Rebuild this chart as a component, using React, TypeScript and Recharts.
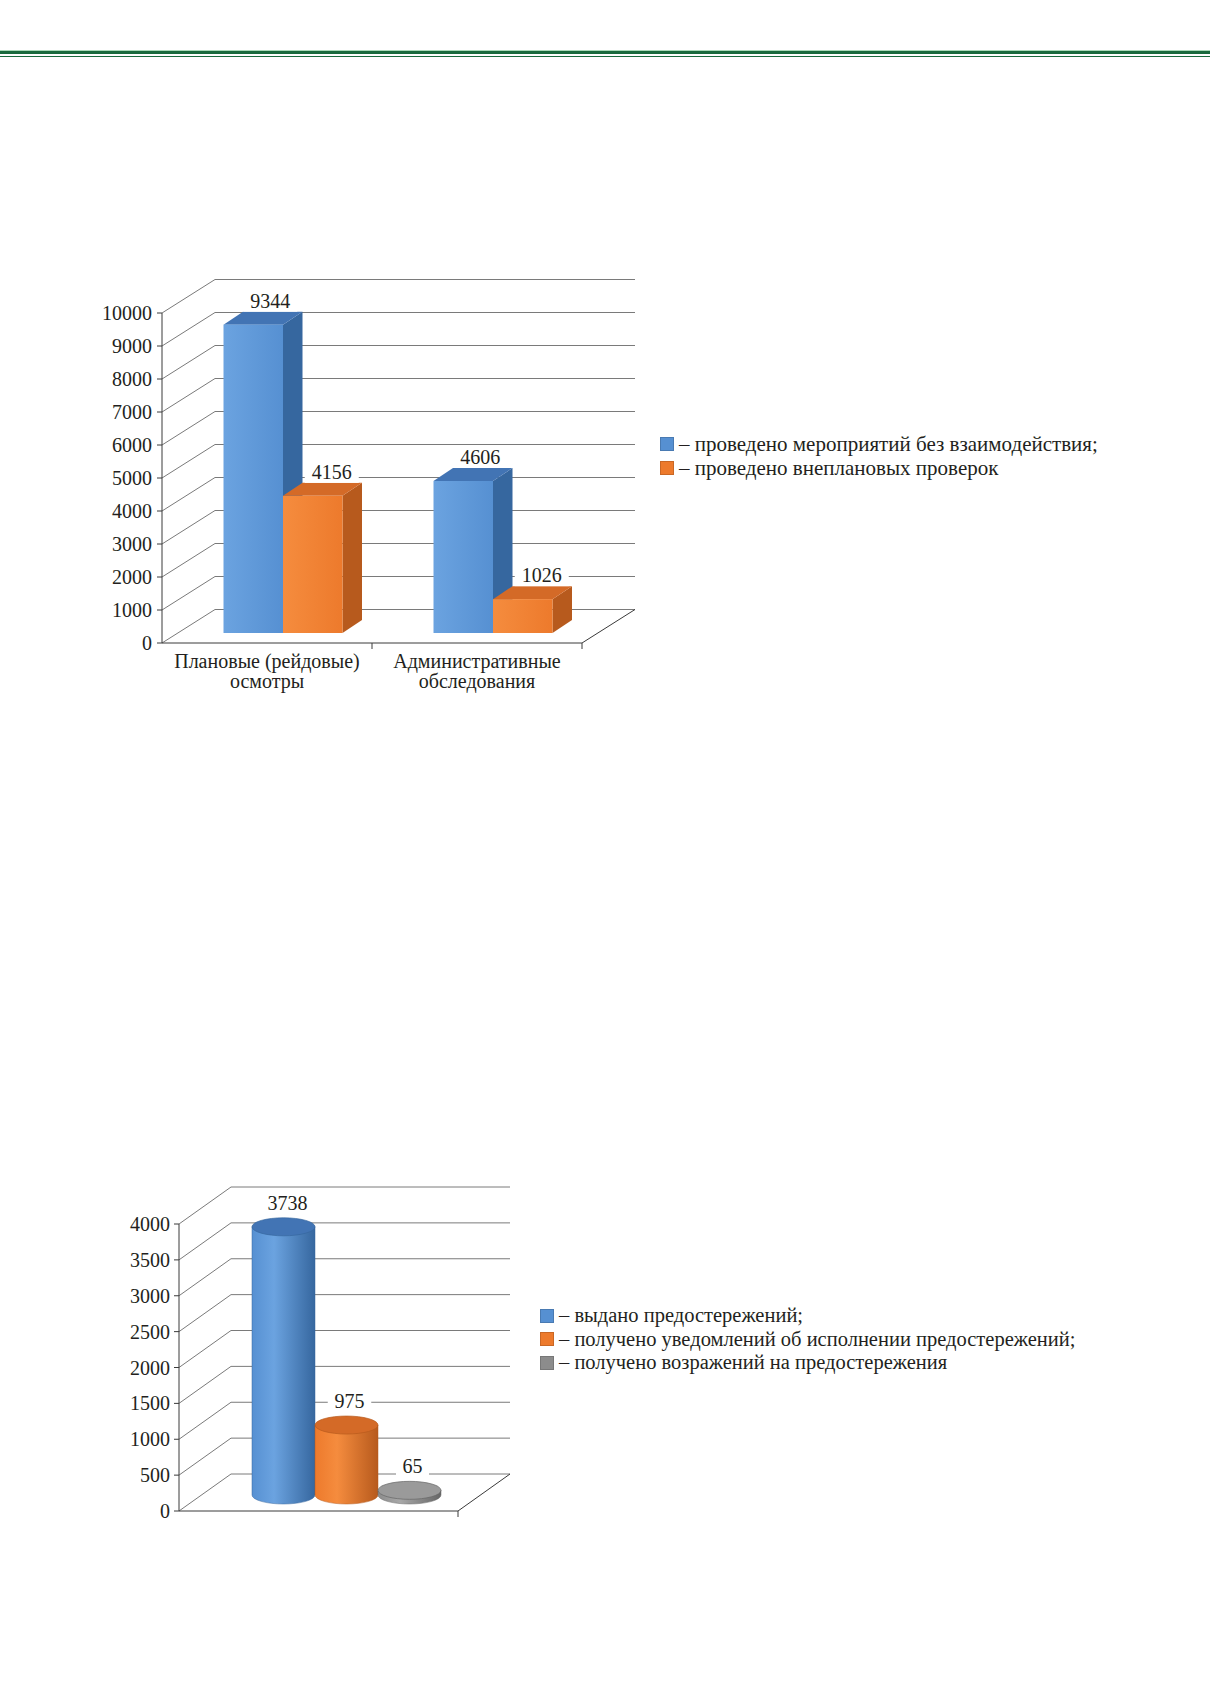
import { Bar, BarChart, CartesianGrid, LabelList, Legend, XAxis, YAxis } from 'recharts';

// ---- data ----
const inspectionCategories = ['Плановые (рейдовые)\nосмотры', 'Административные\nобследования'];
const withoutInteraction = [9344, 4606];
const unscheduledChecks = [4156, 1026];
const inspectionTicks = [0, 1000, 2000, 3000, 4000, 5000, 6000, 7000, 8000, 9000, 10000];

const warningCategories = [''];
const warningsIssued = [3738];
const warningsFulfilled = [975];
const warningsObjected = [65];
const warningTicks = [0, 500, 1000, 1500, 2000, 2500, 3000, 3500, 4000];

const inspectionData = inspectionCategories.map((name, i) => ({
  name,
  withoutInteraction: withoutInteraction[i],
  unscheduled: unscheduledChecks[i],
}));

const warningData = warningCategories.map((name, i) => ({
  name,
  issued: warningsIssued[i],
  fulfilled: warningsFulfilled[i],
  objected: warningsObjected[i],
}));

// ---- style ----
const FONT = '"Liberation Serif", "Times New Roman", serif';
const TEXT = '#231f20';
const GRID = '#7a7a7a';
const AXIS = '#3a3a3a';

const BLUE = { id: 'blue', light: '#6ba3e0', base: '#5690d2', side: '#36679f', top: '#4274b4' };
const ORANGE = { id: 'orange', light: '#f58c3e', base: '#ed7a2c', side: '#b75a1d', top: '#d46a27' };
const GRAY = { id: 'gray', light: '#a8a8a8', base: '#8c8c8c', side: '#666', top: '#9a9a9a' };
type Palette = typeof BLUE;

// back-wall depth of each chart (px)
const DEPTH1 = { dx: 53, dy: 33.5 };
const DEPTH2 = { dx: 52, dy: 37 };

// grid line = diagonal from the front axis to the back wall + line across the back wall
function backWallLine(depth: { dx: number; dy: number }) {
  return (props: any) => {
    const { x1, y1, x2, y, height, key } = props;
    const isFloor = Math.abs(y1 - (y + height)) < 1;
    return (
      <g key={key}>
        <line x1={x1} y1={y1} x2={x1 + depth.dx} y2={y1 - depth.dy} stroke={GRID} strokeWidth={1} />
        <line x1={x1 + depth.dx} y1={y1 - depth.dy} x2={x2 + depth.dx} y2={y1 - depth.dy} stroke={GRID} strokeWidth={1} />
        {isFloor && (
          <line x1={x2} y1={y1} x2={x2 + depth.dx} y2={y1 - depth.dy} stroke={AXIS} strokeWidth={1} />
        )}
      </g>
    );
  };
}

// ---- chart 1: 3D boxes ----
const BOX_OFF = { x: 15.5, y: -10 };
const BOX_DEPTH = { x: 19.5, y: 13 };

function Box3D(props: any) {
  const { x, y, width, height, palette } = props as { x: number; y: number; width: number; height: number; palette: Palette };
  const fx = x + BOX_OFF.x;
  const fy = y + BOX_OFF.y;
  const dx = BOX_DEPTH.x;
  const dy = BOX_DEPTH.y;
  const gid = `box-${palette.id}`;
  return (
    <g>
      <defs>
        <linearGradient id={gid} x1="0" y1="0" x2="1" y2="0">
          <stop offset="0%" stopColor={palette.light} />
          <stop offset="100%" stopColor={palette.base} />
        </linearGradient>
      </defs>
      <polygon
        points={`${fx + width},${fy} ${fx + width + dx},${fy - dy} ${fx + width + dx},${fy + height - dy} ${fx + width},${fy + height}`}
        fill={palette.side}
      />
      <polygon
        points={`${fx},${fy} ${fx + dx},${fy - dy} ${fx + width + dx},${fy - dy} ${fx + width},${fy}`}
        fill={palette.top}
      />
      <rect x={fx} y={fy} width={width} height={height} fill={`url(#${gid})`} />
    </g>
  );
}

function valueLabel(off: { x: number; y: number }, shiftX: number) {
  return (props: any) => {
    const { x, y, width, value } = props;
    const cx = x + off.x + width / 2 + shiftX;
    const cy = y + off.y - 24;
    const w = String(value).length * 10.5 + 12;
    return (
      <g>
        <rect x={cx - w / 2} y={cy - 11} width={w} height={22} fill="#fff" />
        <text x={cx} y={cy + 7} textAnchor="middle" fontSize={20} fill={TEXT}>
          {value}
        </text>
      </g>
    );
  };
}

// ---- chart 2: cylinders ----
const CYL_OFF = { x: 28, y: -16 };
const CYL_RY = 9;

function Cylinder(props: any) {
  const { x, y, width, height, palette } = props as { x: number; y: number; width: number; height: number; palette: Palette };
  const left = x + CYL_OFF.x;
  const top = y + CYL_OFF.y;
  const bottom = y + height + CYL_OFF.y;
  const rx = width / 2;
  const gid = `cyl-${palette.id}`;
  return (
    <g>
      <defs>
        <linearGradient id={gid} x1="0" y1="0" x2="1" y2="0">
          <stop offset="0%" stopColor={palette.base} />
          <stop offset="35%" stopColor={palette.light} />
          <stop offset="100%" stopColor={palette.side} />
        </linearGradient>
      </defs>
      <path
        d={`M${left},${top} L${left},${bottom} A${rx},${CYL_RY} 0 0 0 ${left + width},${bottom} L${left + width},${top} Z`}
        fill={`url(#${gid})`}
        stroke={palette.side}
        strokeWidth={0.5}
      />
      <ellipse cx={left + rx} cy={top} rx={rx} ry={CYL_RY} fill={palette.top} stroke={palette.side} strokeWidth={0.7} />
    </g>
  );
}

// category tick: two-line label plus the boundary tick marks between categories
function categoryTick(halfBand: number, count: number) {
  return (props: any) => {
    const { x, y, payload, index } = props;
    const lines = String(payload.value).split('\n');
    return (
      <g>
        {index > 0 && <line x1={x - halfBand} y1={y} x2={x - halfBand} y2={y + 6} stroke={AXIS} />}
        {index === count - 1 && <line x1={x + halfBand} y1={y} x2={x + halfBand} y2={y + 6} stroke={AXIS} />}
        <text x={x} y={y + 25} textAnchor="middle" fontSize={20} fill={TEXT}>
          {lines.map((line, i) => (
            <tspan key={i} x={x} dy={i === 0 ? 0 : 20}>
              {line}
            </tspan>
          ))}
        </text>
      </g>
    );
  };
}

function legendContent(order: string[], rowHeight: number, fontSize: number) {
  return (props: any) => {
    const items = [...(props.payload ?? [])].sort(
      (a: any, b: any) => order.indexOf(a.dataKey) - order.indexOf(b.dataKey),
    );
    return (
      <div style={{ fontFamily: FONT, fontSize, color: TEXT }}>
        {items.map((entry: any) => (
          <div key={entry.value} style={{ display: 'flex', alignItems: 'center', height: rowHeight, whiteSpace: 'nowrap' }}>
            <span
              style={{
                width: 12,
                height: 12,
                background: entry.color,
                border: '1px solid rgba(0,0,0,0.15)',
                marginRight: 5,
              }}
            />
            <span>– {entry.value}</span>
          </div>
        ))}
      </div>
    );
  };
}

function InspectionChart() {
  const order = ['withoutInteraction', 'unscheduled'];
  return (
    <BarChart
      width={1050}
      height={460}
      data={inspectionData}
      margin={{ top: 63, right: 548, bottom: 7, left: 0 }}
      barGap={0}
      barSize={59.5}
      style={{ fontFamily: FONT }}
    >
      <CartesianGrid vertical={false} horizontal={backWallLine(DEPTH1)} />
      <XAxis
        dataKey="name"
        height={60}
        tickLine={false}
        tickSize={0}
        tickMargin={0}
        axisLine={{ stroke: AXIS }}
        interval={0}
        tick={categoryTick(105, inspectionCategories.length)}
      />
      <YAxis
        domain={[0, 10000]}
        ticks={inspectionTicks}
        interval={0}
        width={82}
        tickSize={5}
        tickMargin={5}
        tickLine={{ stroke: AXIS }}
        axisLine={{ stroke: AXIS }}
        tick={{ fontSize: 20, fill: TEXT }}
      />
      <Legend
        layout="vertical"
        align="center"
        verticalAlign="middle"
        itemSorter={(item: any) => order.indexOf(item.dataKey)}
        content={legendContent(order, 24, 21)}
        wrapperStyle={{ position: 'absolute', left: 580, top: 182, width: 460 }}
      />
      <Bar
        dataKey="withoutInteraction"
        name="проведено мероприятий без взаимодействия;"
        fill={BLUE.base}
        isAnimationActive={false}
        shape={(p: any) => <Box3D {...p} palette={BLUE} />}
      >
        <LabelList dataKey="withoutInteraction" content={valueLabel(BOX_OFF, 17)} />
      </Bar>
      <Bar
        dataKey="unscheduled"
        name="проведено внеплановых проверок"
        fill={ORANGE.base}
        isAnimationActive={false}
        shape={(p: any) => <Box3D {...p} palette={ORANGE} />}
      >
        <LabelList dataKey="unscheduled" content={valueLabel(BOX_OFF, 19)} />
      </Bar>
    </BarChart>
  );
}

function WarningChart() {
  const order = ['issued', 'fulfilled', 'objected'];
  return (
    <BarChart
      width={1010}
      height={380}
      data={warningData}
      margin={{ top: 54, right: 652, bottom: 9, left: 0 }}
      barGap={0}
      barSize={63}
      style={{ fontFamily: FONT }}
    >
      <CartesianGrid vertical={false} horizontal={backWallLine(DEPTH2)} />
      <XAxis
        dataKey="name"
        height={30}
        tickLine={false}
        tickSize={0}
        tickMargin={0}
        axisLine={{ stroke: AXIS }}
        interval={0}
        tick={categoryTick(139.5, warningCategories.length)}
      />
      <YAxis
        domain={[0, 4000]}
        ticks={warningTicks}
        interval={0}
        width={79}
        tickSize={5}
        tickMargin={4}
        tickLine={{ stroke: AXIS }}
        axisLine={{ stroke: AXIS }}
        tick={{ fontSize: 20, fill: TEXT }}
      />
      <Legend
        layout="vertical"
        align="center"
        verticalAlign="middle"
        itemSorter={(item: any) => order.indexOf(item.dataKey)}
        content={legendContent(order, 23.5, 20.5)}
        wrapperStyle={{ position: 'absolute', left: 440, top: 134, width: 560 }}
      />
      <Bar
        dataKey="issued"
        name="выдано предостережений;"
        fill={BLUE.base}
        isAnimationActive={false}
        shape={(p: any) => <Cylinder {...p} palette={BLUE} />}
      >
        <LabelList dataKey="issued" content={valueLabel(CYL_OFF, 4)} />
      </Bar>
      <Bar
        dataKey="fulfilled"
        name="получено уведомлений об исполнении предостережений;"
        fill={ORANGE.base}
        isAnimationActive={false}
        shape={(p: any) => <Cylinder {...p} palette={ORANGE} />}
      >
        <LabelList dataKey="fulfilled" content={valueLabel(CYL_OFF, 3)} />
      </Bar>
      <Bar
        dataKey="objected"
        name="получено возражений на предостережения"
        fill={GRAY.base}
        isAnimationActive={false}
        shape={(p: any) => <Cylinder {...p} palette={GRAY} />}
      >
        <LabelList dataKey="objected" content={valueLabel(CYL_OFF, 3)} />
      </Bar>
    </BarChart>
  );
}

export default function App() {
  return (
    <div style={{ position: 'absolute', left: 0, top: 0, width: 1210, height: 1681, background: '#fff', fontFamily: FONT, overflow: 'hidden' }}>
      {/* page header rule */}
      <div style={{ position: 'absolute', left: 0, top: 50, width: 1210, height: 1, background: '#a9d9b8' }} />
      <div style={{ position: 'absolute', left: 0, top: 51, width: 1210, height: 3, background: '#196a3d' }} />
      <div style={{ position: 'absolute', left: 0, top: 55.5, width: 1210, height: 1.5, background: '#196a3d' }} />

      <div style={{ position: 'absolute', left: 80, top: 250 }}>
        <InspectionChart />
      </div>
      <div style={{ position: 'absolute', left: 100, top: 1170 }}>
        <WarningChart />
      </div>
    </div>
  );
}
